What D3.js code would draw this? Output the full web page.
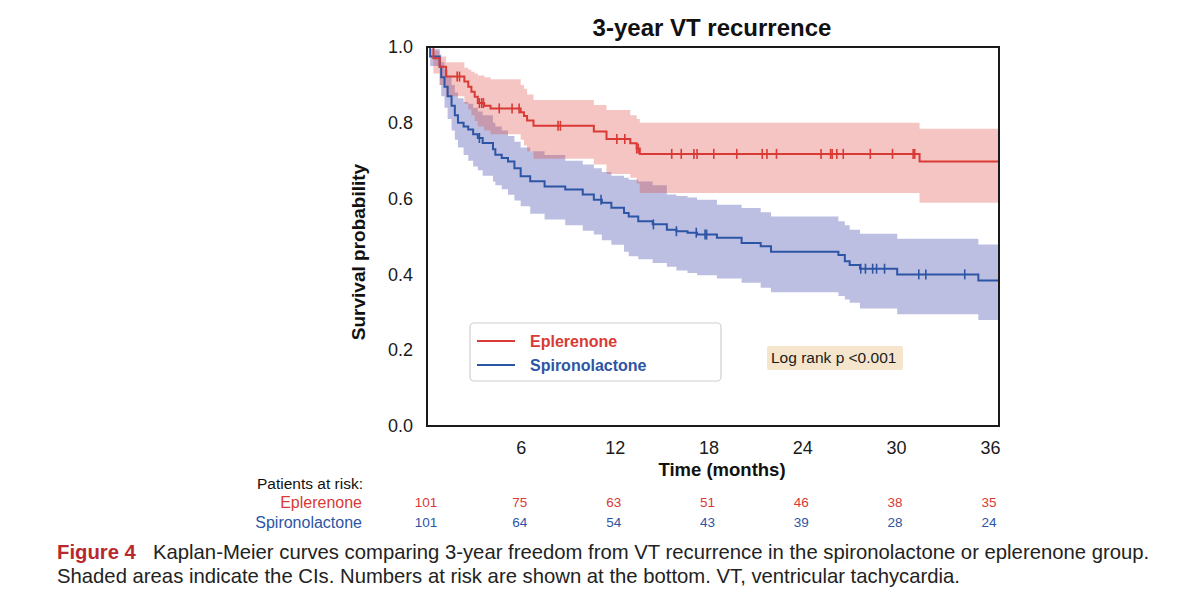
<!DOCTYPE html>
<html>
<head>
<meta charset="utf-8">
<script src="https://cdn.jsdelivr.net/npm/d3@7"></script>
<style>
  body { margin: 0; background: #fff; }
  svg { display: block; font-family: "Liberation Sans", Arial, Helvetica, sans-serif; }
</style>
</head>
<body>
<div id="chart"></div>
<script>
// Data (months)
const eplTime  = [0, 0.41, 0.81, 1.22, 2.39, 2.64, 2.84, 3.05, 3.25, 3.66, 4.06, 5.99, 6.2, 6.4, 6.81, 10.67, 11.48, 13.0, 13.41, 13.61, 31.5];
const eplSurv  = [1.0, 0.97, 0.948, 0.922, 0.909, 0.895, 0.882, 0.869, 0.852, 0.845, 0.838, 0.828, 0.818, 0.806, 0.792, 0.777, 0.757, 0.746, 0.732, 0.718, 0.698];
const eplLower = [1.0, 0.93, 0.90, 0.87, 0.85, 0.835, 0.82, 0.805, 0.79, 0.78, 0.77, 0.755, 0.74, 0.725, 0.705, 0.69, 0.665, 0.655, 0.64, 0.615, 0.589];
const eplUpper = [1.0, 0.99, 0.975, 0.96, 0.945, 0.94, 0.935, 0.93, 0.925, 0.92, 0.915, 0.90, 0.89, 0.875, 0.86, 0.847, 0.834, 0.82, 0.81, 0.80, 0.784];
const eplCensor = [1.93, 2.08, 3.35, 3.5, 3.61, 4.62, 5.44, 5.89, 8.38, 8.53, 12.14, 12.65, 13.41, 13.51, 15.65, 16.26, 17.07, 17.27, 18.34,
  19.81, 21.44, 21.74, 22.35, 25.2, 25.81, 25.91, 26.21, 26.62, 28.35, 29.77, 31.09, 31.19, 36.58];

const spiTime  = [0, 0.2, 0.81, 0.91, 1.12, 1.32, 1.57, 1.78, 1.98, 2.34, 2.64, 2.95, 3.25, 3.56, 4.22, 4.37, 4.78, 5.18, 5.59, 5.99,
  6.6, 7.52, 8.84, 9.96, 10.67, 11.18, 11.79, 12.6, 12.9, 13.51, 14.43, 15.34, 15.95, 16.66, 17.27, 18.54, 20.12, 21.34, 22.0, 26.31,
  26.72, 27.03, 27.69, 30.07, 35.26];
const spiSurv  = [1.0, 0.975, 0.948, 0.92, 0.895, 0.87, 0.845, 0.82, 0.80, 0.79, 0.782, 0.77, 0.76, 0.747, 0.73, 0.716, 0.707, 0.698, 0.68, 0.659,
  0.646, 0.632, 0.624, 0.611, 0.597, 0.589, 0.576, 0.562, 0.553, 0.54, 0.532, 0.518, 0.514, 0.51, 0.505, 0.497, 0.483, 0.474, 0.46, 0.451,
  0.435, 0.425, 0.415, 0.40, 0.384];
const spiLower = [1.0, 0.95, 0.90, 0.87, 0.84, 0.81, 0.78, 0.755, 0.735, 0.715, 0.70, 0.685, 0.675, 0.66, 0.645, 0.635, 0.625, 0.61, 0.595, 0.58,
  0.56, 0.545, 0.53, 0.515, 0.505, 0.49, 0.478, 0.46, 0.448, 0.44, 0.43, 0.42, 0.41, 0.404, 0.398, 0.389, 0.378, 0.365, 0.353, 0.343,
  0.334, 0.325, 0.31, 0.295, 0.28];
const spiUpper = [1.0, 0.995, 0.98, 0.96, 0.94, 0.92, 0.90, 0.88, 0.865, 0.855, 0.85, 0.84, 0.83, 0.82, 0.80, 0.79, 0.78, 0.765, 0.75, 0.735,
  0.725, 0.715, 0.70, 0.69, 0.68, 0.67, 0.66, 0.655, 0.65, 0.645, 0.635, 0.611, 0.607, 0.603, 0.597, 0.584, 0.575, 0.564, 0.553, 0.54,
  0.53, 0.518, 0.507, 0.494, 0.479];
const spiCensor = [3.35, 11.13, 14.48, 15.95, 17.22, 17.78, 17.88, 27.74, 28.04, 28.5, 28.75, 29.26, 31.45, 31.9, 34.39, 36.58];

const riskTimes = [0, 6, 12, 18, 24, 30, 36];
const eplRisk = [101, 75, 63, 51, 46, 38, 35];
const spiRisk = [101, 64, 54, 43, 39, 28, 24];

const xTicks = [6, 12, 18, 24, 30, 36];
const yTicks = [0, 0.2, 0.4, 0.6, 0.8, 1.0];
const xMax = 36.58;

const RED = '#d93a35';
const BLUE = '#2d55a5';

// Dimensions
const dims = { width: 1200, height: 607, left: 427, right: 999, top: 47, bottom: 426 };

const svg = d3.select('#chart').append('svg')
  .attr('width', dims.width)
  .attr('height', dims.height);

// Scales
const xScale = d3.scaleLinear().domain([0, xMax]).range([dims.left, dims.right]);
const yScale = d3.scaleLinear().domain([0, 1]).range([dims.bottom, dims.top]);

// turn parallel arrays into step rows, extended to the end of follow-up
function rows(time, surv, lo, hi) {
  const r = time.map((t, i) => ({ t: t, s: surv[i], lo: lo[i], hi: hi[i] }));
  const last = r[r.length - 1];
  r.push({ t: xMax, s: last.s, lo: last.lo, hi: last.hi });
  return r;
}
const survAt = (time, surv, t) => surv[d3.bisectRight(time, t) - 1];

const groups = [
  { rows: rows(spiTime, spiSurv, spiLower, spiUpper), time: spiTime, surv: spiSurv, censor: spiCensor, color: BLUE, band: '#4a52ad', op: 0.37 },
  { rows: rows(eplTime, eplSurv, eplLower, eplUpper), time: eplTime, surv: eplSurv, censor: eplCensor, color: RED, band: '#df4a45', op: 0.32 }
];

const area = d3.area().curve(d3.curveStepAfter)
  .x(d => xScale(d.t)).y0(d => yScale(d.lo)).y1(d => yScale(d.hi));
const line = d3.line().curve(d3.curveStepAfter)
  .x(d => xScale(d.t)).y(d => yScale(d.s));

// CI bands
groups.forEach(g => {
  svg.append('path').datum(g.rows)
    .attr('d', area)
    .attr('fill', g.band)
    .attr('fill-opacity', g.op);
});

// curves + censor marks
groups.forEach(g => {
  svg.append('path').datum(g.rows)
    .attr('d', line)
    .attr('fill', 'none')
    .attr('stroke', g.color)
    .attr('stroke-width', 2);

  svg.append('g').selectAll('line')
    .data(g.censor)
    .join('line')
    .attr('x1', d => xScale(d)).attr('x2', d => xScale(d))
    .attr('y1', d => yScale(survAt(g.time, g.surv, d)) - 5)
    .attr('y2', d => yScale(survAt(g.time, g.surv, d)) + 5)
    .attr('stroke', g.color)
    .attr('stroke-width', 1.6);
});

// frame
svg.append('rect')
  .attr('x', dims.left).attr('y', dims.top)
  .attr('width', dims.right - dims.left).attr('height', dims.bottom - dims.top)
  .attr('fill', 'none').attr('stroke', '#1a1a1a').attr('stroke-width', 2);

// Axes
const xAxis = svg.append('g')
  .attr('transform', `translate(0,${dims.bottom})`)
  .call(d3.axisBottom(xScale).tickValues(xTicks).tickSize(0).tickPadding(15));
const yAxis = svg.append('g')
  .attr('transform', `translate(${dims.left},0)`)
  .call(d3.axisLeft(yScale).tickValues(yTicks).tickFormat(d3.format('.1f')).tickSize(0).tickPadding(14));
[xAxis, yAxis].forEach(a => {
  a.select('.domain').remove();
  a.selectAll('text').attr('font-size', 18).attr('fill', '#1a1a1a')
    .attr('font-family', '"Liberation Sans", Arial, sans-serif');
});

// titles
svg.append('text')
  .attr('x', 712).attr('y', 36)
  .attr('text-anchor', 'middle')
  .attr('font-size', 24).attr('font-weight', 'bold').attr('fill', '#111')
  .text('3-year VT recurrence');

svg.append('text')
  .attr('x', 722).attr('y', 476)
  .attr('text-anchor', 'middle')
  .attr('font-size', 18.5).attr('font-weight', 'bold').attr('fill', '#111')
  .text('Time (months)');

svg.append('text')
  .attr('transform', 'translate(365,252) rotate(-90)')
  .attr('text-anchor', 'middle')
  .attr('font-size', 19).attr('font-weight', 'bold').attr('fill', '#111')
  .text('Survival probability');

// Legend
const legend = svg.append('g');
legend.append('rect')
  .attr('x', 470).attr('y', 323).attr('width', 251).attr('height', 58).attr('rx', 4)
  .attr('fill', '#fff').attr('stroke', '#d0d0d0').attr('stroke-width', 1.2);
[['Eplerenone', RED, 341], ['Spironolactone', BLUE, 365]].forEach(([label, col, y]) => {
  legend.append('line')
    .attr('x1', 477).attr('x2', 515).attr('y1', y).attr('y2', y)
    .attr('stroke', col).attr('stroke-width', 2);
  legend.append('text')
    .attr('x', 530).attr('y', y + 5.5)
    .attr('font-size', 16).attr('font-weight', 'bold').attr('fill', col)
    .text(label);
});

// log rank note
svg.append('rect')
  .attr('x', 767).attr('y', 346).attr('width', 136).attr('height', 24).attr('rx', 2)
  .attr('fill', '#f5e5cd');
svg.append('text')
  .attr('x', 771).attr('y', 363)
  .attr('font-size', 15.5).attr('fill', '#1a1a1a')
  .text('Log rank p <0.001');

// Patients at risk
svg.append('text')
  .attr('x', 257).attr('y', 489)
  .attr('font-size', 15.5).attr('fill', '#111')
  .text('Patients at risk:');
[['Eplerenone', RED, eplRisk, 508], ['Spironolactone', BLUE, spiRisk, 528]].forEach(([label, col, vals, y]) => {
  svg.append('text')
    .attr('x', 362).attr('y', y)
    .attr('text-anchor', 'end')
    .attr('font-size', 16).attr('fill', col)
    .text(label);
  svg.append('g').selectAll('text')
    .data(vals)
    .join('text')
    .attr('x', (d, i) => xScale(riskTimes[i]) - 1)
    .attr('y', y - 1)
    .attr('text-anchor', 'middle')
    .attr('font-size', 13.5).attr('fill', col)
    .text(d => d);
});

// Caption
const cap1 = svg.append('text').attr('x', 57).attr('y', 559).attr('font-size', 20.3).attr('fill', '#222');
cap1.append('tspan').attr('font-weight', 'bold').attr('fill', '#b8292f').text('Figure 4');
cap1.append('tspan').attr('x', 153)
  .text('Kaplan-Meier curves comparing 3-year freedom from VT recurrence in the spironolactone or eplerenone group.');
svg.append('text').attr('x', 57).attr('y', 583).attr('font-size', 20.3).attr('fill', '#222')
  .text('Shaded areas indicate the CIs. Numbers at risk are shown at the bottom. VT, ventricular tachycardia.');
</script>
</body>
</html>
